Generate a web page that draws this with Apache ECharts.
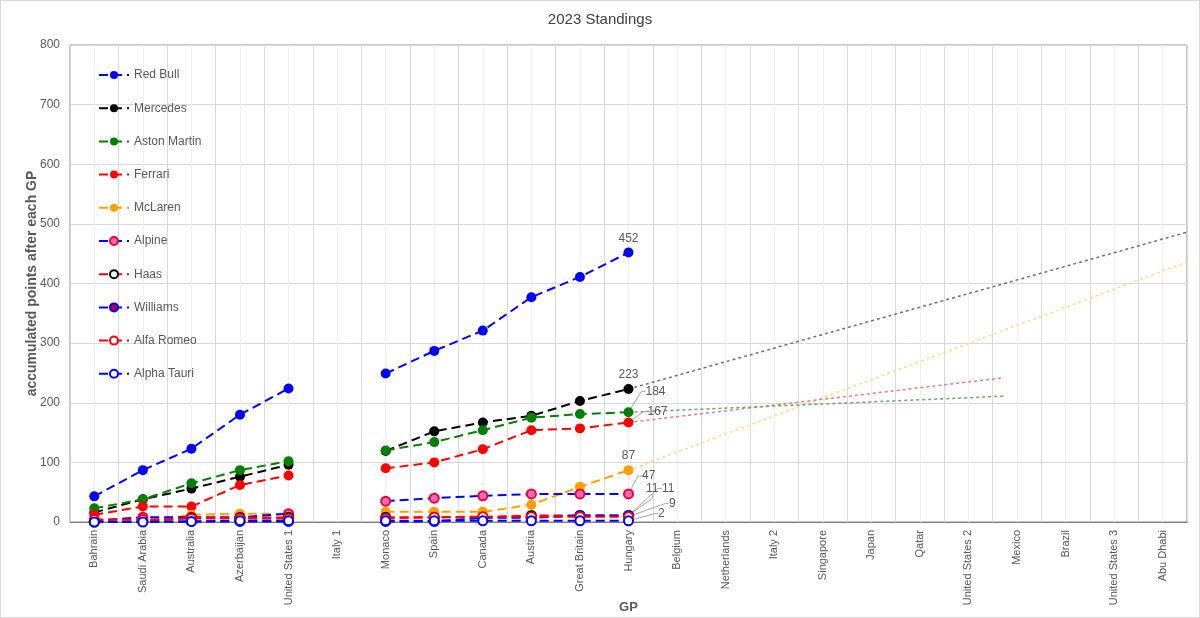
<!DOCTYPE html>
<html>
<head>
<meta charset="utf-8">
<script src="https://cdn.jsdelivr.net/npm/echarts@6/dist/echarts.min.js"></script>
<style>
html,body{margin:0;padding:0;background:#fff;}
#chart{width:1200px;height:618px;box-sizing:border-box;border:1px solid #d9d9d9;}
</style>
</head>
<body>
<div id="chart"></div>
<script>
// ---- data ----
const categories = ['Bahrain','Saudi Arabia','Australia','Azerbaijan','United States 1','Italy 1','Monaco','Spain','Canada','Austria','Great Britain','Hungary','Belgium','Netherlands','Italy 2','Singapore','Japan','Qatar','United States 2','Mexico','Brazil','United States 3','Abu Dhabi'];
const yTicks = [0,100,200,300,400,500,600,700,800];

const redBull     = [43, 87, 123, 180, 224, null, 249, 287, 321, 377, 411, 452];
const mercedes    = [16, 38, 56, 76, 96, null, 119, 152, 167, 178, 203, 223];
const astonMartin = [23, 38, 65, 87, 102, null, 120, 134, 154, 175, 181, 184];
const ferrari     = [12, 26, 26, 62, 78, null, 90, 100, 122, 154, 157, 167];
const mclaren     = [0, 0, 12, 14, 14, null, 17, 17, 17, 29, 59, 87];
const alpine      = [2, 8, 8, 8, 14, null, 35, 40, 44, 47, 47, 47];
const haas        = [0, 1, 7, 7, 8, null, 8, 8, 8, 11, 11, 11];
const williams    = [1, 1, 1, 1, 1, null, 1, 1, 7, 7, 11, 11];
const alfaRomeo   = [4, 4, 6, 6, 6, null, 6, 8, 9, 9, 9, 9];
const alphaTauri  = [0, 0, 1, 2, 2, null, 2, 2, 2, 2, 2, 2];

// trend lines (race position on a 0..23 scale, points)
const mercedesTrend = [[11.5, 223], [23, 486]];
const mclarenTrend  = [[11.5, 87], [23, 436]];
const ferrariTrend  = [[11.5, 167], [19.23, 242]];
const astonTrend    = [[11.5, 184], [19.23, 211]];

const minorCats = [];
categories.forEach(c => { minorCats.push(c + 'a'); minorCats.push(c + 'b'); });

const txt = '#595959';
const font = 'Liberation Sans, Arial, sans-serif';

function team(name, data, line, fill, border, lbl) {
  const last = data.length - 1;
  const s = {
    name: name,
    type: 'line',
    xAxisIndex: 0,
    connectNulls: false,
    symbol: 'circle',
    symbolSize: border ? 9 : 10,
    lineStyle: { color: line, width: 2, type: [9, 5] },
    itemStyle: { color: fill, borderColor: border || fill, borderWidth: border ? 2 : 0 },
    emphasis: { disabled: true },
    data: data.map((v, i) => i === last ? { value: v, label: { show: true } } : v),
    label: { show: false, color: txt, fontSize: 12, fontFamily: font,
             position: lbl.pos, distance: 3 },
    z: 3
  };
  if (lbl.dx !== undefined) {
    s.labelLayout = { dx: lbl.dx, dy: lbl.dy };
    s.labelLine = { show: true, length2: 4, lineStyle: { color: '#a6a6a6', width: 1 } };
  }
  return s;
}

function trend(data, color) {
  return {
    type: 'line', xAxisIndex: 2, data: data, symbol: 'none', silent: true,
    lineStyle: { color: color, width: 1.5, type: [3, 3] }, z: 2, legendHoverLink: false
  };
}

const series = [
  team('Red Bull', redBull, '#0000ff', '#0000ff', null, { pos: 'top' }),
  team('Mercedes', mercedes, '#000000', '#000000', null, { pos: 'top' }),
  team('Aston Martin', astonMartin, '#008000', '#008000', null, { pos: 'right', dx: 9, dy: -21 }),
  team('Ferrari', ferrari, '#ff0000', '#ff0000', null, { pos: 'right', dx: 11, dy: -11 }),
  team('McLaren', mclaren, '#ffa000', '#ffa000', null, { pos: 'top' }),
  team('Alpine', alpine, '#0000ff', '#ff69b4', '#e8003a', { pos: 'right', dx: 5, dy: -18 }),
  team('Haas', haas, '#ff0000', '#ffffff', '#000000', { pos: 'right', dx: 9, dy: -27 }),
  team('Williams', williams, '#0000ff', '#b00040', '#0000ff', { pos: 'right', dx: 25, dy: -27 }),
  team('Alfa Romeo', alfaRomeo, '#ff0000', '#ffffff', '#ff0000', { pos: 'right', dx: 32, dy: -13 }),
  team('Alpha Tauri', alphaTauri, '#0000ff', '#ffffff', '#0000ff', { pos: 'right', dx: 21, dy: -7 }),
  trend(mercedesTrend, '#707070'),
  trend(mclarenTrend, '#ffd98a'),
  trend(ferrariTrend, '#e87a8a'),
  trend(astonTrend, '#6aa86a')
];

const chart = echarts.init(document.getElementById('chart'), null, { renderer: 'canvas' });
chart.setOption({
  animation: false,
  backgroundColor: '#ffffff',
  textStyle: { fontFamily: font },
  title: {
    text: '2023 Standings', left: 'center', top: 6,
    textStyle: { color: '#404040', fontSize: 15, fontWeight: 'normal', fontFamily: font }
  },
  legend: {
    orient: 'vertical', left: 92, top: 63,
    itemWidth: 30, itemHeight: 10, itemGap: 21.2,
    data: ['Red Bull','Mercedes','Aston Martin','Ferrari','McLaren','Alpine','Haas','Williams','Alfa Romeo','Alpha Tauri'],
    textStyle: { color: txt, fontSize: 12, fontFamily: font },
    selectedMode: false
  },
  grid: { left: 69, right: 12, top: 44, bottom: 95, show: true, borderColor: '#8c8c8c', borderWidth: 1,
          outerBoundsMode: 'none', containLabel: false },
  xAxis: [
    {
      type: 'category', data: categories, boundaryGap: true,
      name: 'GP', nameLocation: 'middle', nameGap: 79, nameMoveOverlap: false,
      nameTextStyle: { color: txt, fontSize: 13, fontWeight: 'bold', fontFamily: font },
      axisLine: { lineStyle: { color: '#7f7f7f' } },
      axisTick: { show: false },
      axisLabel: { rotate: 90, color: txt, fontSize: 11, fontFamily: font, margin: 8, interval: 0 },
      splitLine: { show: true, interval: 0, lineStyle: { color: '#d9d9d9', width: 1 } },
      z: 2
    },
    {
      type: 'category', data: minorCats, boundaryGap: true, position: 'bottom',
      axisLine: { show: false }, axisTick: { show: false }, axisLabel: { show: false },
      splitLine: { show: true, interval: function (i) { return i % 2 === 1; }, lineStyle: { color: '#efefef', width: 1 } },
      z: 1
    },
    { type: 'value', min: 0, max: 23, show: false, splitLine: { show: false } }
  ],
  yAxis: {
    type: 'value', min: 0, max: 800, interval: 100,
    name: 'accumulated points after each GP', nameLocation: 'middle', nameGap: 31, nameMoveOverlap: false,
    nameTextStyle: { color: txt, fontSize: 14, fontWeight: 'bold', fontFamily: font },
    axisLine: { show: false }, axisTick: { show: false },
    axisLabel: { color: txt, fontSize: 12, fontFamily: font, margin: 10,
                 formatter: v => yTicks.indexOf(v) >= 0 ? String(v) : '' },
    splitLine: { lineStyle: { color: '#d9d9d9' } }
  },
  series: series
});
</script>
</body>
</html>
